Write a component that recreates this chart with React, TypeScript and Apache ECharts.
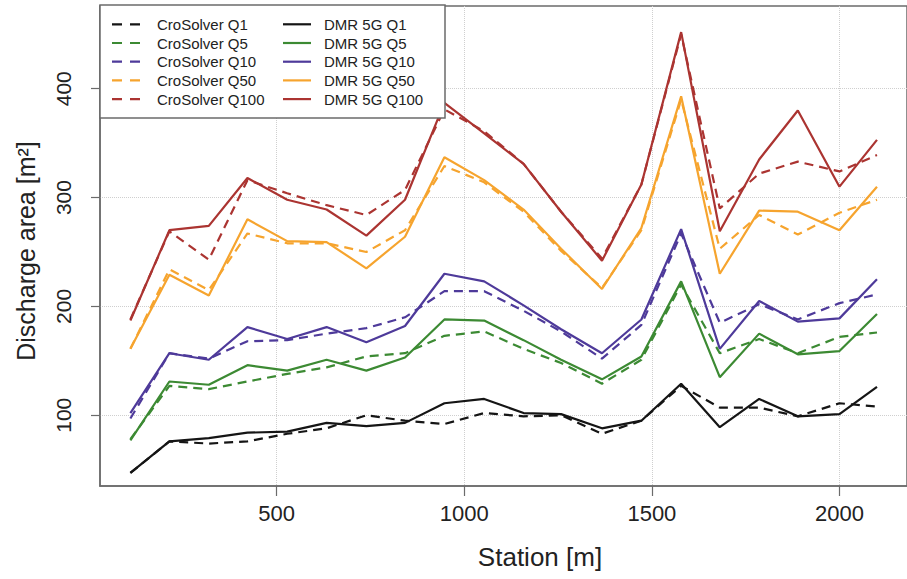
import React, { useEffect, useRef } from "react";
import * as echarts from "echarts";

const stations = [110, 214, 319, 422, 528, 633, 739, 842, 947, 1053, 1158, 1258, 1367, 1472, 1578, 1681, 1786, 1889, 2000, 2100];

const dmrQ1 = [47, 76, 79, 84, 85, 93, 90, 93, 111, 115, 102, 101, 88, 95, 129, 89, 115, 99, 101, 126];
const croQ1 = [47, 76, 74, 76, 83, 88, 100, 95, 92, 102, 99, 100, 83, 95, 127, 107, 107, 99, 111, 108];
const dmrQ5 = [77, 131, 128, 146, 141, 151, 141, 153, 188, 187, 169, 151, 133, 154, 223, 135, 175, 156, 159, 193];
const croQ5 = [78, 127, 124, 131, 138, 144, 154, 157, 173, 177, 161, 148, 129, 151, 220, 157, 170, 157, 172, 176];
const dmrQ10 = [102, 157, 151, 181, 170, 181, 167, 182, 230, 223, 201, 179, 157, 188, 271, 161, 205, 186, 189, 225];
const croQ10 = [97, 157, 152, 168, 169, 175, 180, 190, 214, 214, 196, 177, 152, 183, 267, 185, 202, 188, 203, 211];
const dmrQ50 = [161, 229, 210, 280, 260, 259, 235, 264, 337, 316, 289, 253, 216, 272, 393, 230, 288, 287, 270, 310];
const croQ50 = [161, 234, 215, 267, 258, 258, 250, 270, 329, 314, 287, 251, 217, 270, 390, 253, 284, 266, 286, 298];
const dmrQ100 = [187, 270, 274, 318, 298, 289, 265, 298, 387, 359, 331, 287, 242, 312, 452, 269, 335, 380, 310, 353];
const croQ100 = [188, 269, 243, 316, 304, 293, 284, 307, 381, 361, 331, 287, 244, 312, 450, 290, 322, 333, 324, 339];

const xTicks = [500, 1000, 1500, 2000];
const yTicks = [100, 200, 300, 400];

const croNames = ["CroSolver Q1", "CroSolver Q5", "CroSolver Q10", "CroSolver Q50", "CroSolver Q100"];
const dmrNames = ["DMR 5G Q1", "DMR 5G Q5", "DMR 5G Q10", "DMR 5G Q50", "DMR 5G Q100"];
const colors = ["#151515", "#3c8a33", "#4e3a9a", "#f6a42e", "#ab3431"];

const FONT = "Liberation Sans, Arial, Helvetica, sans-serif";

const ICON_SOLID = "path://M0,0 M28,16 M0,6.9 L28,6.9 L28,9.1 L0,9.1 Z";
const ICON_DASH = "path://M0,0 M28,16 M0,6.9 L10,6.9 L10,9.1 L0,9.1 Z M18,6.9 L28,6.9 L28,9.1 L18,9.1 Z";

export default function App() {
  const ref = useRef<HTMLDivElement>(null);
  useEffect(() => {
    if (!ref.current) return;
    const chart = echarts.init(ref.current, undefined, { renderer: "svg" });
    const croData = [croQ1, croQ5, croQ10, croQ50, croQ100];
    const dmrData = [dmrQ1, dmrQ5, dmrQ10, dmrQ50, dmrQ100];
    const mk = (name: string, vals: number[], color: string, dashed: boolean) => ({
      name,
      type: "line",
      data: stations.map((s, i) => [s, vals[i]]),
      symbol: "none",
      showSymbol: false,
      lineStyle: { color, width: 2.2, type: dashed ? [9, 6] : "solid" },
      itemStyle: { color },
      z: dashed ? 3 : 2,
    });
    const series: any[] = [];
    for (let i = 0; i < 5; i++) {
      series.push(mk(croNames[i], croData[i], colors[i], true));
      series.push(mk(dmrNames[i], dmrData[i], colors[i], false));
    }
    const legendBase = {
      orient: "vertical",
      top: 16.3,
      padding: 0,
      itemWidth: 28,
      itemHeight: 16,
      itemGap: 2.7,
      z: 20,
      selectedMode: false,
      itemStyle: { borderWidth: 0 },
    };
    const fmt = (v: number) => String(v);
    chart.setOption({
      animation: false,
      textStyle: { fontFamily: FONT },
      grid: {
        left: 100,
        right: -8,
        top: 6,
        bottom: 93,
        show: true,
        borderColor: "#6b6b6b",
        borderWidth: 1.5,
        backgroundColor: "transparent",
      },
      xAxis: {
        type: "value",
        min: 29,
        max: 2180,
        axisLine: { show: true, lineStyle: { color: "#6b6b6b", width: 1.5 } },
        axisTick: { show: true, length: 10, customValues: xTicks, lineStyle: { color: "#6b6b6b", width: 1.2 } },
        axisLabel: { customValues: xTicks, formatter: fmt, fontSize: 22, color: "#222", margin: 16, fontFamily: FONT },
        splitLine: { show: true, lineStyle: { color: "#cfcfcf", type: "dotted", width: 1 } },
      },
      yAxis: {
        type: "value",
        min: 35,
        max: 476,
        axisLine: { show: true, lineStyle: { color: "#6b6b6b", width: 1.5 } },
        axisTick: { show: true, length: 9, customValues: yTicks, lineStyle: { color: "#6b6b6b", width: 1.2 } },
        axisLabel: { customValues: yTicks, formatter: fmt, fontSize: 21, color: "#222", margin: 26, rotate: 90, fontFamily: FONT },
        splitLine: { show: true, lineStyle: { color: "#cfcfcf", type: "dotted", width: 1 } },
      },
      legend: [
        {
          ...legendBase,
          left: 112,
          data: croNames.map((n) => ({ name: n, icon: ICON_DASH })),
          textStyle: { fontSize: 15, lineHeight: 16, color: "#222", fontFamily: FONT, padding: [0, 0, 0, 12] },
        },
        {
          ...legendBase,
          left: 283,
          data: dmrNames.map((n) => ({ name: n, icon: ICON_SOLID })),
          textStyle: { fontSize: 15, lineHeight: 16, color: "#222", fontFamily: FONT, padding: [0, 0, 0, 8] },
        },
      ],
      graphic: [
        {
          type: "rect",
          z: 10,
          shape: { x: 100, y: 5, width: 345, height: 113 },
          style: { fill: "#ffffff", stroke: "#6b6b6b", lineWidth: 1.5 },
        },
        {
          type: "text",
          x: 26,
          y: 251,
          rotation: Math.PI / 2,
          style: {
            text: "Discharge area [m²]",
            fontSize: 25,
            fontFamily: FONT,
            fill: "#222",
            textAlign: "center",
            textVerticalAlign: "middle",
          },
        },
        {
          type: "text",
          x: 540,
          y: 557,
          style: {
            text: "Station [m]",
            fontSize: 26,
            fontFamily: FONT,
            fill: "#222",
            textAlign: "center",
            textVerticalAlign: "middle",
          },
        },
      ],
      series,
    });
    return () => chart.dispose();
  }, []);
  return (
    <div
      ref={ref}
      style={{ position: "fixed", left: 0, top: 0, width: 907, height: 579, background: "#fff" }}
    />
  );
}
